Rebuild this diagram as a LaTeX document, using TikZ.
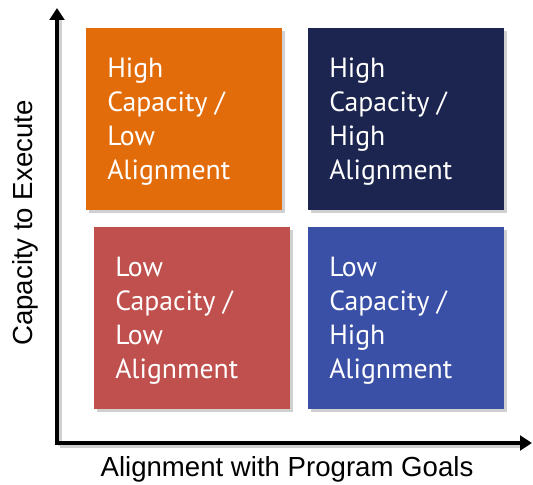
\documentclass[tikz,border=0pt]{standalone}
\usepackage{fontspec}
\setmainfont{Liberation Sans}
\newfontfamily\boxfont{PT Sans}
\usetikzlibrary{arrows.meta}
\definecolor{qorange}{HTML}{E36C0A}
\definecolor{qnavy}{HTML}{1B2550}
\definecolor{qred}{HTML}{C0504D}
\definecolor{qblue}{HTML}{3A50A6}
\definecolor{qshadow}{HTML}{D0D0D0}
\tikzset{
  quad/.style={draw=none, minimum width=196*0.75pt, minimum height=182*0.75pt,
    inner sep=0pt},
  quadtext/.style={text=white, align=left, anchor=north west,
    font=\boxfont\fontsize{20.8}{25.5}\selectfont, inner sep=0pt},
  axis/.style={line width=3pt, -{Triangle[length=9pt,width=11pt]}},
  axisshadow/.style={line width=3pt, draw=qshadow},
}
\begin{document}
\begin{tikzpicture}[x=0.75pt,y=-0.75pt]
\useasboundingbox (0,0) rectangle (533,485);
% shadows under the quadrant boxes
\fill[qshadow] (89,31) rectangle (285,213);
\fill[qshadow] (311,31) rectangle (507,213);
\fill[qshadow] (97,230) rectangle (293,412);
\fill[qshadow] (311,230) rectangle (507,412);
% quadrant boxes
\node[quad, fill=qorange, anchor=north west] (hl) at (86,28) {};
\node[quad, fill=qnavy,   anchor=north west] (hh) at (308,28) {};
\node[quad, fill=qred,    anchor=north west] (ll) at (94,227) {};
\node[quad, fill=qblue,   anchor=north west] (lh) at (308,227) {};
\node[quadtext] (thl) at (107,57.5) {High\\Capacity /\\Low\\Alignment};
\node[quadtext] (thh) at (329,57.5) {High\\Capacity /\\High\\Alignment};
\node[quadtext] (tll) at (115,256.5) {Low\\Capacity /\\Low\\Alignment};
\node[quadtext] (tlh) at (329,256.5) {Low\\Capacity /\\High\\Alignment};
% axes
\coordinate (origin) at (57,443);
\coordinate (ytip) at (57,8);
\coordinate (xtip) at (532,443);
\draw[axisshadow] (60,446) -- (60,20);
\draw[axisshadow] (60,446) -- (520,446);
\draw[axis] (57,445) -- (ytip);
\draw[axis] (55,443) -- (xtip);
% axis titles
\node[font=\fontsize{20.7}{24}\selectfont] (xlab) at (287,469) {Alignment with Program Goals};
\node[font=\fontsize{20.7}{24}\selectfont, rotate=90] (ylab) at (25,223) {Capacity to Execute};
\end{tikzpicture}
\end{document}
